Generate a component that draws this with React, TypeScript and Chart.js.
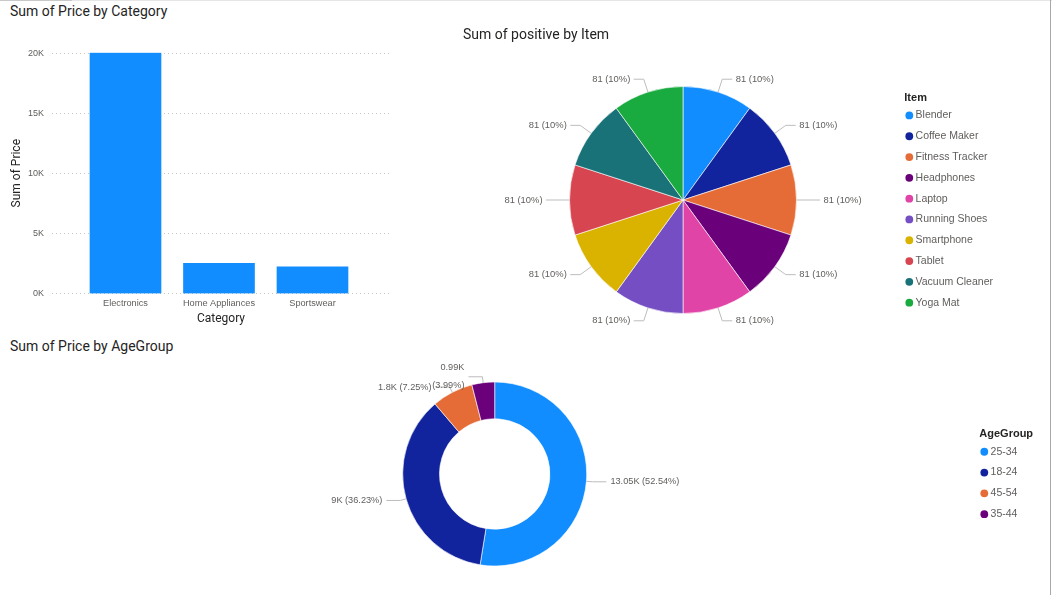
import React, { useEffect, useRef } from "react";
import { Chart, registerables } from "chart.js";

Chart.register(...registerables);

// ---------- DATA ----------
const categories = ["Electronics", "Home Appliances", "Sportswear"];
const categoryPrice = [20075, 2526, 2243];
const priceTicks = [0, 5000, 10000, 15000, 20000];
const priceTickLabels = ["0K", "5K", "10K", "15K", "20K"];

const items = [
  "Blender",
  "Coffee Maker",
  "Fitness Tracker",
  "Headphones",
  "Laptop",
  "Running Shoes",
  "Smartphone",
  "Tablet",
  "Vacuum Cleaner",
  "Yoga Mat",
];
const itemPositive = [81, 81, 81, 81, 81, 81, 81, 81, 81, 81];
const itemColors = [
  "#118DFF",
  "#12239E",
  "#E66C37",
  "#6B007B",
  "#E044A7",
  "#744EC2",
  "#D9B300",
  "#D64550",
  "#197278",
  "#1AAB40",
];

const ageGroups = ["25-34", "18-24", "45-54", "35-44"];
const agePrice = [13052, 9000, 1801, 991];
const ageColors = ["#118DFF", "#12239E", "#E66C37", "#6B007B"];

// ---------- STYLE ----------
const SANS = "'Liberation Sans', Arial, sans-serif";
const TITLE_FONT = "Roboto, 'Liberation Sans', sans-serif";
const DARK = "#252423";
const GRAY = "#605E5C";
const LEADER = "#BDBDBD";

const trim = (s: string) => s.replace(/\.?0+$/, "");
const kFmt = (v: number) => `${trim((v / 1000).toFixed(2))}K`;
const pctFmt = (v: number, total: number) => `${trim(((v / total) * 100).toFixed(2))}%`;

function outsideLabels(opts: {
  elbow: number;
  horiz: number;
  gap: number;
  lineHeight: number;
  font: string;
  fmt: (v: number, total: number) => string[];
}) {
  return {
    id: "outsideLabels",
    afterDatasetsDraw(chart: any) {
      const ctx = chart.ctx as CanvasRenderingContext2D;
      const meta = chart.getDatasetMeta(0);
      const data = chart.data.datasets[0].data as number[];
      const total = data.reduce((a, b) => a + b, 0);
      ctx.save();
      ctx.font = opts.font;
      ctx.textBaseline = "middle";
      meta.data.forEach((el: any, i: number) => {
        const { x, y, startAngle, endAngle, outerRadius } = el.getProps(
          ["x", "y", "startAngle", "endAngle", "outerRadius"],
          true
        );
        const mid = (startAngle + endAngle) / 2;
        const c = Math.cos(mid);
        const s = Math.sin(mid);
        const x0 = x + outerRadius * c;
        const y0 = y + outerRadius * s;
        const x1 = x + (outerRadius + opts.elbow) * c;
        const y1 = y + (outerRadius + opts.elbow) * s;
        const right = c >= 0;
        const x2 = x1 + (right ? opts.horiz : -opts.horiz);
        ctx.strokeStyle = LEADER;
        ctx.lineWidth = 1;
        ctx.beginPath();
        ctx.moveTo(x0, y0);
        ctx.lineTo(x1, y1);
        ctx.lineTo(x2, y1);
        ctx.stroke();
        const lines = opts.fmt(data[i], total);
        ctx.fillStyle = GRAY;
        ctx.textAlign = right ? "left" : "right";
        const tx = x2 + (right ? opts.gap : -opts.gap);
        lines.forEach((t, k) => {
          ctx.fillText(t, tx, y1 + (k - (lines.length - 1) / 2) * opts.lineHeight);
        });
      });
      ctx.restore();
    },
  };
}

// lets the legend title draw past the (narrow) legend box without being clipped
const widenLegend = (extra: number) => ({
  id: "widenLegend",
  afterLayout(chart: any) {
    const l = chart.legend;
    if (l) {
      l.right += extra;
      l.width += extra;
    }
  },
});

const legendLabels = (chart: any) =>
  (Chart.overrides as any).doughnut.plugins.legend.labels
    .generateLabels(chart)
    .map((l: any) => ({ ...l, text: [l.text], lineWidth: 0 }));

function legendOptions(title: string, maxWidth: number, titleTop: number) {
  return {
    display: true,
    position: "right" as const,
    align: "start" as const,
    maxWidth,
    title: {
      display: true,
      text: title,
      position: "start" as const,
      color: DARK,
      font: { family: SANS, size: 11, weight: "bold" as const },
      padding: { top: titleTop, bottom: 1 },
    },
    labels: {
      usePointStyle: true,
      pointStyle: "circle" as const,
      boxWidth: 2,
      boxHeight: 5.5,
      padding: 4,
      color: GRAY,
      font: { family: SANS, size: 10.5, lineHeight: "16.8px" },
      generateLabels: legendLabels,
    },
  };
}

export default function App() {
  const barRef = useRef<HTMLCanvasElement>(null);
  const pieRef = useRef<HTMLCanvasElement>(null);
  const donutRef = useRef<HTMLCanvasElement>(null);

  useEffect(() => {
    const maxPrice = Math.max(...categoryPrice);
    const bar = new Chart(barRef.current as HTMLCanvasElement, {
      type: "bar",
      data: {
        datasets: [
          {
            label: "Sum of Price",
            data: categories.map((_, i) => ({ x: i, y: categoryPrice[i] })),
            backgroundColor: "#118DFF",
            barThickness: 71,
          },
        ],
      },
      options: {
        animation: false,
        responsive: true,
        maintainAspectRatio: false,
        events: [],
        layout: { padding: { top: 32.7, right: 10, left: 0, bottom: 0 } },
        plugins: { legend: { display: false }, tooltip: { enabled: false } },
        scales: {
          x: {
            type: "linear",
            offset: false,
            min: -0.786,
            max: 2.829,
            grid: { display: false, drawTicks: false },
            border: { display: false },
            afterBuildTicks: (s: any) => {
              s.ticks = categories.map((_, i) => ({ value: i }));
            },
            afterFit: (s: any) => {
              s.height = 41.3;
            },
            ticks: {
              autoSkip: false,
              maxRotation: 0,
              minRotation: 0,
              padding: 4,
              color: GRAY,
              font: { family: SANS, size: 9.2 },
              callback: (v: any) => categories[v as number] ?? "",
            },
            title: {
              display: true,
              text: "Category",
              color: DARK,
              font: { family: TITLE_FONT, size: 12 },
              padding: { top: 0, bottom: 8.8 },
            },
          },
          y: {
            min: 0,
            max: maxPrice,
            grid: { color: "#C8C6C4", drawTicks: false },
            border: { display: false, dash: [1, 3] },
            afterBuildTicks: (s: any) => {
              s.ticks = priceTicks.map((v) => ({ value: v }));
            },
            afterFit: (s: any) => {
              s.width = 52;
            },
            ticks: {
              autoSkip: false,
              padding: 8,
              color: GRAY,
              font: { family: SANS, size: 9 },
              callback: (v: any) => priceTickLabels[priceTicks.indexOf(v as number)] ?? "",
            },
            title: {
              display: true,
              text: "Sum of Price",
              color: DARK,
              font: { family: TITLE_FONT, size: 12 },
              padding: { top: 9.6, bottom: 0 },
            },
          },
        },
      },
    } as any);

    const pie = new Chart(pieRef.current as HTMLCanvasElement, {
      type: "pie",
      data: {
        labels: items,
        datasets: [
          {
            data: itemPositive,
            backgroundColor: itemColors,
            borderColor: "#ffffff",
            borderWidth: 0.6,
            radius: 113.5,
            clip: false,
          },
        ],
      },
      options: {
        animation: false,
        responsive: true,
        maintainAspectRatio: false,
        events: [],
        layout: { padding: { top: 50, bottom: 50, left: 41.7, right: 55.7 } },
        plugins: {
          tooltip: { enabled: false },
          legend: legendOptions("Item", 90, 42),
        },
      },
      plugins: [
        widenLegend(20),
        outsideLabels({
          elbow: 13.5,
          horiz: 10,
          gap: 3.5,
          lineHeight: 12,
          font: `9.4px ${SANS}`,
          fmt: (v, total) => [`${v} (${pctFmt(v, total)})`],
        }),
      ],
    } as any);

    const donut = new Chart(donutRef.current as HTMLCanvasElement, {
      type: "doughnut",
      data: {
        labels: ageGroups,
        datasets: [
          {
            data: agePrice,
            backgroundColor: ageColors,
            borderColor: "#ffffff",
            borderWidth: 0.6,
            radius: 92,
            cutout: "60%",
            clip: false,
          },
        ],
      },
      options: {
        animation: false,
        responsive: true,
        maintainAspectRatio: false,
        events: [],
        layout: { padding: { top: 10, bottom: 10, left: 10.1, right: 25.7 } },
        plugins: {
          tooltip: { enabled: false },
          legend: legendOptions("AgeGroup", 45, 64.3),
        },
      },
      plugins: [
        widenLegend(25),
        outsideLabels({
          elbow: 6,
          horiz: 14,
          gap: 4,
          lineHeight: 18,
          font: `9.2px ${SANS}`,
          fmt: (v, total) =>
            v / total < 0.05
              ? [kFmt(v), `(${pctFmt(v, total)})`]
              : [`${kFmt(v)} (${pctFmt(v, total)})`],
        }),
      ],
    } as any);

    return () => {
      bar.destroy();
      pie.destroy();
      donut.destroy();
    };
  }, []);

  const titleStyle: React.CSSProperties = {
    position: "absolute",
    fontFamily: TITLE_FONT,
    fontSize: 14,
    lineHeight: "16px",
    color: DARK,
    whiteSpace: "nowrap",
  };

  return (
    <div
      style={{
        position: "absolute",
        left: 0,
        top: 0,
        width: 1052,
        height: 595,
        overflow: "hidden",
        background: "#ffffff",
      }}
    >
      <div style={{ position: "absolute", left: 0, top: 0, width: 1052, height: 1, background: "#E6E6E6" }} />
      <div style={{ position: "absolute", left: 0, top: 0, width: 72, height: 1, background: "#C8C8C8" }} />
      <div style={{ position: "absolute", left: 1050, top: 0, width: 1, height: 595, background: "#A8A8A8" }} />

      <div style={{ position: "absolute", left: 0, top: 20, width: 400, height: 315 }}>
        <canvas ref={barRef} />
      </div>
      <div style={{ position: "absolute", left: 420, top: 0, width: 630, height: 400 }}>
        <canvas ref={pieRef} />
      </div>
      <div style={{ position: "absolute", left: 0, top: 354, width: 1050, height: 240 }}>
        <canvas ref={donutRef} />
      </div>

      <div style={{ ...titleStyle, left: 10, top: 3 }}>Sum of Price by Category</div>
      <div style={{ ...titleStyle, left: 463, top: 26 }}>Sum of positive by Item</div>
      <div style={{ ...titleStyle, left: 10, top: 338 }}>Sum of Price by AgeGroup</div>
    </div>
  );
}
